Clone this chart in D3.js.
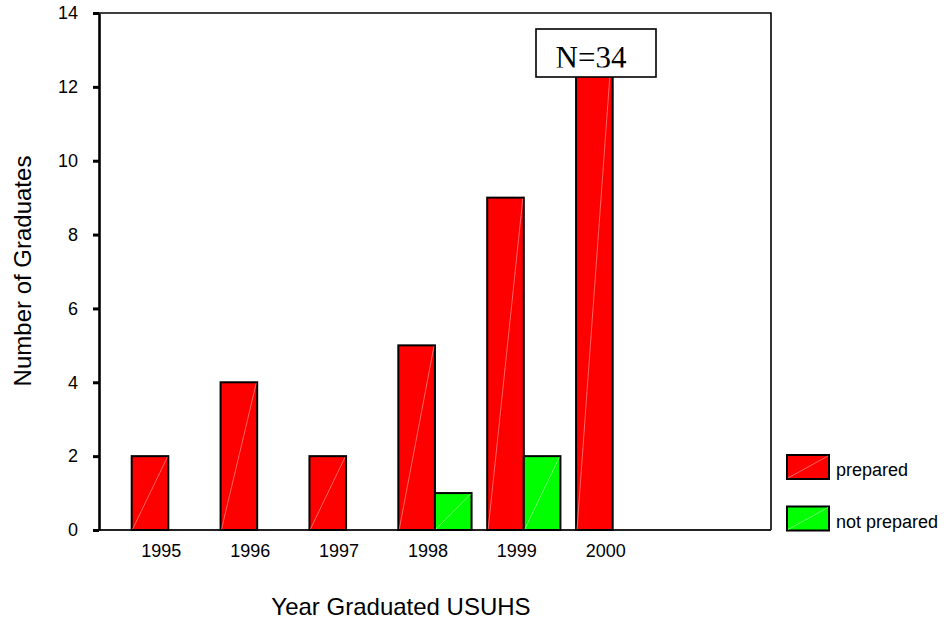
<!DOCTYPE html>
<html>
<head>
<meta charset="utf-8">
<script src="https://cdn.jsdelivr.net/npm/d3@7"></script>
<style>
  body { margin: 0; background: #fff; }
  svg { display: block; font-family: Arial, "Liberation Sans", sans-serif; }
</style>
</head>
<body>
<div id="chart"></div>
<script>
// data
const years = ["1995", "1996", "1997", "1998", "1999", "2000"];
const series = ["prepared", "not prepared"];
const prepared = [2, 4, 2, 5, 9, 13];
const notPrepared = [0, 0, 0, 1, 2, 0];
const yTicks = [0, 2, 4, 6, 8, 10, 12, 14];
const colors = ["#ff0000", "#00ff00"];
const note = "N=34";

const width = 945, height = 621;
const plotLeft = 99, plotRight = 771, plotTop = 13, plotBottom = 530;

const svg = d3.select("#chart").append("svg").attr("width", width).attr("height", height);

const y = d3.scaleLinear().domain([0, 14]).range([plotBottom, plotTop]);
const x0 = d3.scaleBand().domain(years).range([131.7, 649.3]).paddingInner(0.176).paddingOuter(0);
const x1 = d3.scaleBand().domain(series).range([0, x0.bandwidth()]);

const rows = years.map((yr, i) => ({ year: yr, values: [prepared[i], notPrepared[i]] }));

// frame (top, right, bottom)
svg.append("path")
  .attr("d", `M${plotLeft},${plotTop}H${plotRight}V${plotBottom}`)
  .attr("fill", "none").attr("stroke", "#000").attr("stroke-width", 1.6);
svg.append("line")
  .attr("x1", plotLeft).attr("x2", plotRight).attr("y1", plotBottom).attr("y2", plotBottom)
  .attr("stroke", "#222").attr("stroke-width", 2);

// bars
const groups = svg.selectAll("g.grp").data(rows).enter().append("g")
  .attr("class", "grp")
  .attr("transform", d => `translate(${x0(d.year)},0)`);

const bars = groups.selectAll("g.bar")
  .data(d => d.values.map((v, j) => ({ key: series[j], v: v, j: j })))
  .enter().append("g").attr("class", "bar");

bars.append("rect")
  .attr("x", d => x1(d.key))
  .attr("y", d => y(d.v))
  .attr("width", x1.bandwidth())
  .attr("height", d => plotBottom - y(d.v))
  .attr("fill", d => colors[d.j])
  .attr("stroke", "#000")
  .attr("stroke-width", 2);

// faint diagonal artefact inside each bar
bars.filter(d => d.v > 0).append("line")
  .attr("x1", d => x1(d.key) + 1)
  .attr("y1", plotBottom - 1)
  .attr("x2", d => x1(d.key) + x1.bandwidth() - 1)
  .attr("y2", d => y(d.v) + 1)
  .attr("stroke", d => d.j === 0 ? "#ff8f8f" : "#9fff9f")
  .attr("stroke-width", 0.7);

// x labels
svg.selectAll("text.xl").data(years).enter().append("text")
  .attr("class", "xl")
  .attr("x", d => x0(d) + x0.bandwidth() / 2 - 7)
  .attr("y", 557)
  .attr("text-anchor", "middle")
  .attr("font-size", 18)
  .text(d => d);

// y axis
const yAxis = svg.append("g")
  .attr("transform", `translate(${plotLeft},0)`)
  .call(d3.axisLeft(y).tickValues(yTicks).tickSize(6).tickSizeOuter(0).tickPadding(15));
yAxis.select(".domain").attr("stroke", "#000").attr("stroke-width", 2.6);
yAxis.selectAll(".tick line").attr("stroke", "#000").attr("stroke-width", 3);
yAxis.selectAll(".tick text")
  .attr("font-size", 18)
  .attr("font-family", "Arial, 'Liberation Sans', sans-serif")
  .attr("fill", "#000");

// axis titles
svg.append("text")
  .attr("x", 401).attr("y", 615)
  .attr("text-anchor", "middle")
  .attr("font-size", 24)
  .text("Year Graduated USUHS");

svg.append("text")
  .attr("transform", "translate(31,271) rotate(-90)")
  .attr("text-anchor", "middle")
  .attr("font-size", 24)
  .text("Number of Graduates");

// N box
svg.append("rect")
  .attr("x", 536).attr("y", 29).attr("width", 120).attr("height", 48)
  .attr("fill", "#fff").attr("stroke", "#000").attr("stroke-width", 1.6);
svg.append("clipPath").attr("id", "nclip")
  .append("rect").attr("x", 536).attr("y", 29).attr("width", 120).attr("height", 38.5);
svg.append("text")
  .attr("clip-path", "url(#nclip)")
  .attr("x", 591).attr("y", 68)
  .attr("text-anchor", "middle")
  .attr("font-family", "'Liberation Serif', 'Times New Roman', serif")
  .attr("font-size", 31)
  .text(note);

// legend
const legend = svg.selectAll("g.leg").data(series).enter().append("g")
  .attr("class", "leg")
  .attr("transform", (d, i) => `translate(787,${455 + i * 51.5})`);
legend.append("rect")
  .attr("width", 42).attr("height", 24)
  .attr("fill", (d, i) => colors[i])
  .attr("stroke", "#000").attr("stroke-width", 2);
legend.append("line")
  .attr("x1", 1).attr("y1", 23).attr("x2", 41).attr("y2", 1)
  .attr("stroke", (d, i) => i === 0 ? "#ff8f8f" : "#9fff9f")
  .attr("stroke-width", 0.7);
legend.append("text")
  .attr("x", 49).attr("y", 21)
  .attr("font-size", 18)
  .text(d => d);
</script>
</body>
</html>
